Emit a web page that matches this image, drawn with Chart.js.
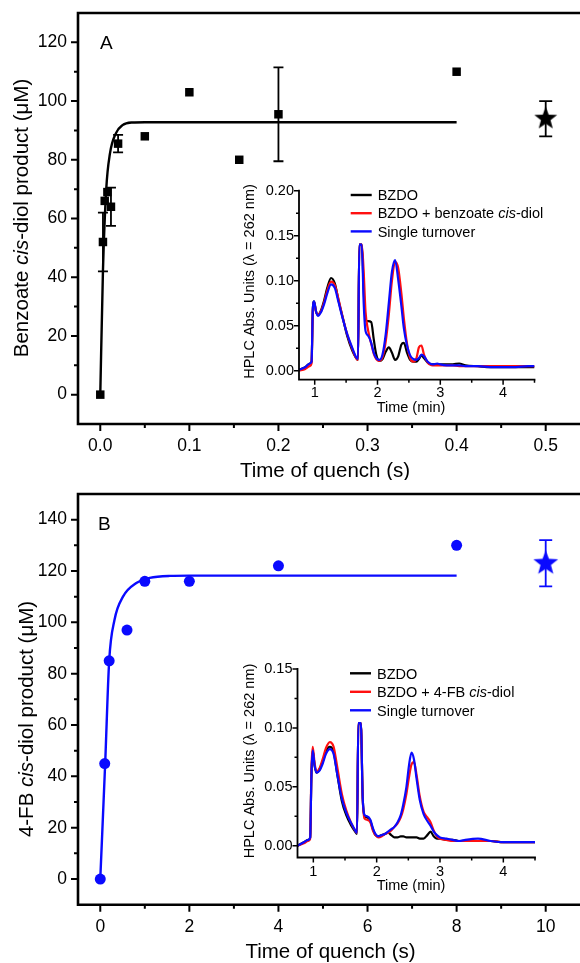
<!DOCTYPE html>
<html lang="en">
<head>
<meta charset="UTF-8">
<title>BZDO cis-diol product vs time of quench</title>
<script src="https://cdn.jsdelivr.net/npm/chart.js"></script>
<style>
  html, body { margin: 0; padding: 0; background: #fff; overflow: hidden; }
  #wrap { position: relative; width: 580px; height: 963px; }
  canvas { position: absolute; }
</style>
</head>
<body>
<div id="wrap">
  <canvas id="mainA" width="580" height="480" style="left:0;top:0"></canvas>
  <canvas id="insetA" width="350" height="260" style="left:230px;top:165px"></canvas>
  <canvas id="mainB" width="580" height="483" style="left:0;top:480px"></canvas>
  <canvas id="insetB" width="350" height="260" style="left:230px;top:645px"></canvas>
</div>
<script>
const FONT = "'Liberation Sans', Arial, Helvetica, sans-serif";
const BLUE = '#0a0aff', RED = '#ff1010', BLACK = '#000000';

// ---- panel A : benzoate ----
const quenchA  = [0, 0.003, 0.005, 0.008, 0.012, 0.02, 0.05, 0.1, 0.156, 0.2, 0.4];
const diolA    = [0, 52, 66, 69, 64, 85.5, 88, 103, 80, 95.5, 110];
const diolErrA = [0, 10, 0, 0, 6.5, 3, 0, 0, 0, 16, 0];
const fitTimeA = [0, 0.003, 0.0067, 0.0108, 0.0175, 0.025, 0.036, 0.05, 0.1, 0.2, 0.3, 0.4];
const fitA     = [0, 42, 70, 82, 89, 91.8, 92.7, 92.8, 92.8, 92.8, 92.8, 92.8];
const steadyTimeA = [0.5], steadyA = [94], steadyLoA = [88], steadyHiA = [100];
const xTicksA = [0, 0.1, 0.2, 0.3, 0.4, 0.5];
const xMinorA = [0.05, 0.15, 0.25, 0.35, 0.45];
const yTicksA = [0, 20, 40, 60, 80, 100, 120];
const yMinorA = [10, 30, 50, 70, 90, 110];

// inset A : HPLC traces
const hplcTimeA = [0.75,0.85,0.92,0.95,0.97,0.99,1.02,1.05,1.10,1.15,1.20,1.26,1.32,1.38,1.45,1.52,1.60,1.66,1.69,1.71,1.75,1.78,1.81,1.85,1.90,1.94,1.98,2.03,2.08,2.13,2.18,2.23,2.28,2.33,2.38,2.42,2.47,2.52,2.57,2.62,2.66,2.70,2.74,2.80,2.88,2.95,3.00,3.10,3.20,3.30,3.40,3.60,3.80,4.00,4.20,4.40,4.50];
const singleA   = [0.001,0.004,0.008,0.010,0.068,0.077,0.066,0.061,0.065,0.074,0.086,0.096,0.092,0.076,0.057,0.040,0.025,0.015,0.013,0.140,0.140,0.075,0.044,0.039,0.031,0.020,0.014,0.012,0.018,0.040,0.075,0.110,0.123,0.101,0.072,0.047,0.028,0.017,0.013,0.012,0.014,0.018,0.016,0.010,0.007,0.008,0.007,0.006,0.006,0.006,0.005,0.005,0.004,0.004,0.004,0.005,0.005];
const withDiolA = [0.000,0.002,0.005,0.008,0.066,0.076,0.066,0.062,0.066,0.076,0.089,0.099,0.095,0.079,0.058,0.040,0.024,0.014,0.012,0.140,0.140,0.110,0.065,0.045,0.030,0.019,0.013,0.011,0.015,0.032,0.062,0.100,0.121,0.114,0.086,0.058,0.030,0.014,0.010,0.014,0.026,0.028,0.018,0.009,0.006,0.006,0.006,0.006,0.006,0.005,0.005,0.005,0.005,0.005,0.005,0.005,0.005];
const bzdoA     = [0.001,0.004,0.008,0.010,0.068,0.077,0.066,0.062,0.067,0.078,0.092,0.103,0.097,0.078,0.058,0.038,0.022,0.014,0.012,0.140,0.140,0.090,0.056,0.055,0.054,0.035,0.018,0.011,0.013,0.021,0.026,0.020,0.012,0.016,0.029,0.031,0.020,0.012,0.010,0.010,0.013,0.017,0.014,0.009,0.007,0.007,0.007,0.007,0.007,0.008,0.006,0.005,0.004,0.004,0.004,0.004,0.004];
const hplcXTicks = [1, 2, 3, 4];
const hplcXMinor = [1.5, 2.5, 3.5, 4.5];
const hplcYTicksA = [0, 0.05, 0.10, 0.15, 0.20];
const hplcYMinorA = [0.025, 0.075, 0.125, 0.175];

// ---- panel B : 4-fluorobenzoate ----
const quenchB = [0, 0.1, 0.2, 0.6, 1, 2, 4, 8];
const diolB   = [0, 45, 85, 97, 116, 116, 122, 130];
const fitTimeB = [0, 0.11, 0.2, 0.32, 0.51, 0.81, 1.11, 1.56, 2, 4, 8];
const fitB     = [0, 45, 85, 101, 110, 115.3, 117.3, 118.1, 118.2, 118.2, 118.2];
const steadyTimeB = [10], steadyB = [123], steadyLoB = [114], steadyHiB = [132];
const xTicksB = [0, 2, 4, 6, 8, 10];
const xMinorB = [1, 3, 5, 7, 9];
const yTicksB = [0, 20, 40, 60, 80, 100, 120, 140];
const yMinorB = [10, 30, 50, 70, 90, 110, 130];

// inset B : HPLC traces
const hplcTimeB = [0.75,0.85,0.92,0.95,0.97,0.99,1.02,1.05,1.10,1.15,1.20,1.26,1.32,1.38,1.45,1.52,1.60,1.66,1.69,1.71,1.75,1.78,1.81,1.85,1.90,1.94,1.98,2.03,2.08,2.13,2.18,2.23,2.28,2.33,2.38,2.42,2.47,2.51,2.55,2.59,2.63,2.68,2.74,2.80,2.85,2.90,2.95,3.00,3.10,3.20,3.30,3.40,3.60,3.80,4.00,4.20,4.40,4.50];
const singleB   = [0.000,0.003,0.005,0.007,0.060,0.081,0.068,0.062,0.064,0.070,0.078,0.082,0.078,0.060,0.040,0.028,0.019,0.013,0.011,0.104,0.104,0.040,0.026,0.025,0.022,0.015,0.010,0.008,0.009,0.010,0.012,0.014,0.016,0.020,0.026,0.035,0.050,0.068,0.079,0.073,0.057,0.039,0.027,0.021,0.017,0.012,0.009,0.007,0.006,0.005,0.004,0.005,0.006,0.004,0.003,0.003,0.003,0.003];
const withDiolB = [0.000,0.002,0.004,0.006,0.065,0.084,0.070,0.063,0.066,0.074,0.083,0.088,0.084,0.066,0.044,0.030,0.019,0.013,0.011,0.104,0.104,0.040,0.023,0.022,0.020,0.013,0.009,0.007,0.008,0.010,0.011,0.013,0.016,0.019,0.024,0.031,0.044,0.058,0.069,0.071,0.060,0.042,0.029,0.024,0.020,0.013,0.008,0.006,0.005,0.004,0.004,0.004,0.004,0.004,0.003,0.003,0.003,0.003];
const bzdoB     = [0.000,0.003,0.005,0.007,0.060,0.081,0.068,0.062,0.065,0.072,0.080,0.084,0.080,0.060,0.038,0.026,0.017,0.012,0.010,0.104,0.104,0.040,0.025,0.024,0.021,0.014,0.009,0.008,0.009,0.010,0.011,0.009,0.007,0.007,0.008,0.008,0.007,0.007,0.007,0.007,0.007,0.006,0.006,0.009,0.012,0.008,0.006,0.006,0.005,0.005,0.004,0.004,0.004,0.004,0.003,0.003,0.003,0.003];
const hplcYTicksB = [0, 0.05, 0.10, 0.15];
const hplcYMinorB = [0.025, 0.075, 0.125];

const legendA = [
  [{ t: 'BZDO' }],
  [{ t: 'BZDO + benzoate ' }, { t: 'cis', it: true }, { t: '-diol' }],
  [{ t: 'Single turnover' }]
];
const legendB = [
  [{ t: 'BZDO' }],
  [{ t: 'BZDO + 4-FB ' }, { t: 'cis', it: true }, { t: '-diol' }],
  [{ t: 'Single turnover' }]
];
const legendColors = [BLACK, RED, BLUE];
const hplcYTitle = [{ t: 'HPLC Abs. Units (\u03bb = 262 nm)' }];

const xy = (xs, ys) => xs.map((v, i) => ({ x: v, y: ys[i] }));

function starImage(color, r) {
  const c = document.createElement('canvas');
  c.width = c.height = 2 * r + 2;
  const g = c.getContext('2d');
  g.fillStyle = color;
  g.beginPath();
  for (let k = 0; k < 10; k++) {
    const rad = k % 2 ? r * 0.42 : r;
    const ang = -Math.PI / 2 + k * Math.PI / 5;
    g.lineTo(r + 1 + rad * Math.cos(ang), r + 1 + rad * Math.sin(ang));
  }
  g.closePath();
  g.fill();
  return c;
}

function richText(ctx, parts, size, x, y, align, rot) {
  ctx.save();
  ctx.translate(x, y);
  if (rot) ctx.rotate(rot);
  const fontOf = p => (p.it ? 'italic ' : '') + size + 'px ' + FONT;
  let w = 0;
  parts.forEach(p => { ctx.font = fontOf(p); w += ctx.measureText(p.t).width; });
  let cx = align === 'center' ? -w / 2 : 0;
  ctx.fillStyle = '#000';
  ctx.textBaseline = 'alphabetic';
  parts.forEach(p => {
    ctx.font = fontOf(p);
    ctx.fillText(p.t, cx, 0);
    cx += ctx.measureText(p.t).width;
  });
  ctx.restore();
}

// axes, ticks, error bars and labels drawn on top of what chart.js lays out
const frameCfg = {};
const framePlugin = {
  id: 'frame',
  afterDatasetsDraw(chart) {
    const cfg = frameCfg[chart.canvas.id];
    const ctx = chart.ctx, xs = chart.scales.x, ys = chart.scales.y;
    (cfg.errors || []).forEach(e => {
      ctx.save();
      ctx.strokeStyle = e.color;
      ctx.lineWidth = 1.8;
      e.x.forEach((v, i) => {
        if (e.lo[i] === e.hi[i]) return;
        const px = xs.getPixelForValue(v);
        const p1 = ys.getPixelForValue(e.lo[i]), p2 = ys.getPixelForValue(e.hi[i]);
        ctx.beginPath();
        ctx.moveTo(px, p1); ctx.lineTo(px, p2);
        ctx.moveTo(px - e.cap, p1); ctx.lineTo(px + e.cap, p1);
        ctx.moveTo(px - e.cap, p2); ctx.lineTo(px + e.cap, p2);
        ctx.stroke();
      });
      ctx.restore();
    });
  },
  afterDraw(chart) {
    const cfg = frameCfg[chart.canvas.id];
    const ctx = chart.ctx, a = chart.chartArea, xs = chart.scales.x, ys = chart.scales.y;
    ctx.save();
    ctx.strokeStyle = '#000';
    ctx.lineCap = 'square';
    ctx.lineWidth = cfg.axisW;
    ctx.beginPath();
    ctx.moveTo(a.left, a.top); ctx.lineTo(a.left, a.bottom); ctx.lineTo(a.right, a.bottom);
    if (cfg.box) { ctx.moveTo(a.left, a.top); ctx.lineTo(a.right + 5, a.top); }
    ctx.stroke();
    ctx.lineCap = 'butt';
    ctx.lineWidth = cfg.tickW;
    ctx.beginPath();
    const xTick = (v, len) => { const p = xs.getPixelForValue(v); ctx.moveTo(p, a.bottom); ctx.lineTo(p, a.bottom + len); };
    const yTick = (v, len) => { const p = ys.getPixelForValue(v); ctx.moveTo(a.left, p); ctx.lineTo(a.left - len, p); };
    cfg.xMajor.forEach(v => xTick(v, cfg.major));
    cfg.xMinor.forEach(v => xTick(v, cfg.minor));
    cfg.yMajor.forEach(v => yTick(v, cfg.major));
    cfg.yMinor.forEach(v => yTick(v, cfg.minor));
    ctx.stroke();
    (cfg.texts || []).forEach(t => richText(ctx, t.parts, t.size, t.x, t.y, t.align, t.rot));
    if (cfg.legend) {
      const L = cfg.legend;
      L.rows.forEach((row, i) => {
        const cy = L.y0 + i * L.dy;
        ctx.strokeStyle = legendColors[i];
        ctx.lineWidth = 2.4;
        ctx.beginPath(); ctx.moveTo(L.x0, cy); ctx.lineTo(L.x0 + 21, cy); ctx.stroke();
        richText(ctx, row, L.size, L.x0 + 27, cy + 5.2, 'left', 0);
      });
    }
    ctx.restore();
  }
};

function makeChart(id, datasets, sc) {
  return new Chart(document.getElementById(id), {
    type: 'scatter',
    data: { datasets },
    options: {
      responsive: false,
      animation: false,
      events: [],
      layout: { autoPadding: false, padding: { left: 0, top: sc.top, right: sc.right, bottom: 0 } },
      plugins: { legend: { display: false }, tooltip: { enabled: false } },
      scales: {
        x: {
          type: 'linear', min: sc.xMin, max: sc.xMax,
          grid: { display: false, drawTicks: false }, border: { display: false },
          afterBuildTicks: s => { s.ticks = sc.xTicks.map(v => ({ value: v })); },
          afterFit: s => { s.height = sc.xH; s.paddingLeft = 0; s.paddingRight = 0; },
          ticks: { autoSkip: false, maxRotation: 0, padding: sc.xPad, color: '#000',
                   font: { family: FONT, size: sc.font }, callback: sc.xFmt }
        },
        y: {
          type: 'linear', min: sc.yMin, max: sc.yMax,
          grid: { display: false, drawTicks: false }, border: { display: false },
          afterBuildTicks: s => { s.ticks = sc.yTicks.map(v => ({ value: v })); },
          afterFit: s => { s.width = sc.yW; s.paddingTop = 0; s.paddingBottom = 0; },
          ticks: { autoSkip: false, padding: sc.yPad, color: '#000',
                   font: { family: FONT, size: sc.font }, callback: sc.yFmt }
        }
      }
    },
    plugins: [framePlugin]
  });
}

const lineSet = (data, color, w) => ({
  data, showLine: true, borderColor: color, borderWidth: w, pointRadius: 0,
  cubicInterpolationMode: 'monotone', fill: false
});

// ---------- panel A ----------
frameCfg.mainA = {
  box: true, axisW: 2.6, tickW: 2, major: 7, minor: 4,
  xMajor: xTicksA, xMinor: xMinorA, yMajor: yTicksA, yMinor: yMinorA,
  errors: [
    { x: quenchA, lo: diolA.map((v, i) => v - diolErrA[i]), hi: diolA.map((v, i) => v + diolErrA[i]), cap: 5, color: BLACK },
    { x: steadyTimeA, lo: steadyLoA, hi: steadyHiA, cap: 6.5, color: BLACK }
  ],
  texts: [
    { parts: [{ t: 'A' }], size: 19, x: 100, y: 48.6, align: 'left' },
    { parts: [{ t: 'Benzoate ' }, { t: 'cis', it: true }, { t: '-diol product (\u03bcM)' }], size: 20.5, x: 27.7, y: 218, align: 'center', rot: -Math.PI / 2 },
    { parts: [{ t: 'Time of quench (s)' }], size: 20.5, x: 325, y: 476.5, align: 'center' }
  ]
};
makeChart('mainA', [
  { data: xy(steadyTimeA, steadyA), pointStyle: starImage(BLACK, 12), pointRadius: 12 },
  { data: xy(quenchA, diolA), pointStyle: 'rect', pointRadius: 6, backgroundColor: BLACK, borderWidth: 0 },
  lineSet(xy(fitTimeA, fitA), BLACK, 2.4)
], {
  top: 13, right: 0, xH: 56, yW: 78, xMin: -0.025, xMax: 0.5385, yMin: -10, yMax: 130,
  xTicks: xTicksA, yTicks: yTicksA, xPad: 12, yPad: 11, font: 17.5,
  xFmt: v => v.toFixed(1), yFmt: v => String(v)
});

frameCfg.insetA = {
  box: false, axisW: 1.8, tickW: 1.5, major: 5, minor: 3,
  xMajor: hplcXTicks, xMinor: hplcXMinor, yMajor: hplcYTicksA, yMinor: hplcYMinorA,
  texts: [
    { parts: hplcYTitle, size: 14.5, x: 24.2, y: 116.5, align: 'center', rot: -Math.PI / 2 },
    { parts: [{ t: 'Time (min)' }], size: 14.5, x: 181, y: 247, align: 'center' }
  ],
  legend: { rows: legendA, x0: 120.7, y0: 30, dy: 18.2, size: 14.5 }
};
makeChart('insetA', [
  lineSet(xy(hplcTimeA, singleA), BLUE, 2.2),
  lineSet(xy(hplcTimeA, withDiolA), RED, 2.2),
  lineSet(xy(hplcTimeA, bzdoA), BLACK, 2.2)
], {
  top: 25.7, right: 45.5, xH: 45.3, yW: 69, xMin: 0.75, xMax: 4.5, yMin: -0.01, yMax: 0.2,
  xTicks: hplcXTicks, yTicks: hplcYTicksA, xPad: 5, yPad: 5, font: 14.5,
  xFmt: v => String(v), yFmt: v => v.toFixed(2)
});

// ---------- panel B ----------
frameCfg.mainB = {
  box: true, axisW: 2.6, tickW: 2, major: 7, minor: 4,
  xMajor: xTicksB, xMinor: xMinorB, yMajor: yTicksB, yMinor: yMinorB,
  errors: [
    { x: steadyTimeB, lo: steadyLoB, hi: steadyHiB, cap: 6.5, color: BLUE }
  ],
  texts: [
    { parts: [{ t: 'B' }], size: 19, x: 98, y: 50.3, align: 'left' },
    { parts: [{ t: '4-FB ' }, { t: 'cis', it: true }, { t: '-diol product (\u03bcM)' }], size: 20.5, x: 33, y: 239, align: 'center', rot: -Math.PI / 2 },
    { parts: [{ t: 'Time of quench (s)' }], size: 20.5, x: 330.5, y: 478.3, align: 'center' }
  ]
};
makeChart('mainB', [
  { data: xy(steadyTimeB, steadyB), pointStyle: starImage(BLUE, 13), pointRadius: 13 },
  { data: xy(quenchB, diolB), pointStyle: 'circle', pointRadius: 5.5, backgroundColor: BLUE, borderWidth: 0 },
  lineSet(xy(fitTimeB, fitB), BLUE, 2.4)
], {
  top: 14, right: 0, xH: 58.3, yW: 78, xMin: -0.5, xMax: 10.77, yMin: -10, yMax: 150,
  xTicks: xTicksB, yTicks: yTicksB, xPad: 12, yPad: 11, font: 17.5,
  xFmt: v => String(v), yFmt: v => String(v)
});

frameCfg.insetB = {
  box: false, axisW: 1.8, tickW: 1.5, major: 5, minor: 3,
  xMajor: hplcXTicks, xMinor: hplcXMinor, yMajor: hplcYTicksB, yMinor: hplcYMinorB,
  texts: [
    { parts: hplcYTitle, size: 14.5, x: 24.2, y: 116, align: 'center', rot: -Math.PI / 2 },
    { parts: [{ t: 'Time (min)' }], size: 14.5, x: 181, y: 245.4, align: 'center' }
  ],
  legend: { rows: legendB, x0: 120, y0: 28.3, dy: 18.5, size: 14.5 }
};
makeChart('insetB', [
  lineSet(xy(hplcTimeB, singleB), BLUE, 2.2),
  lineSet(xy(hplcTimeB, withDiolB), RED, 2.2),
  lineSet(xy(hplcTimeB, bzdoB), BLACK, 2.2)
], {
  top: 24, right: 45, xH: 47.5, yW: 67.5, xMin: 0.75, xMax: 4.5, yMin: -0.01, yMax: 0.15,
  xTicks: hplcXTicks, yTicks: hplcYTicksB, xPad: 6, yPad: 5, font: 14.5,
  xFmt: v => String(v), yFmt: v => v.toFixed(2)
});
</script>
</body>
</html>
